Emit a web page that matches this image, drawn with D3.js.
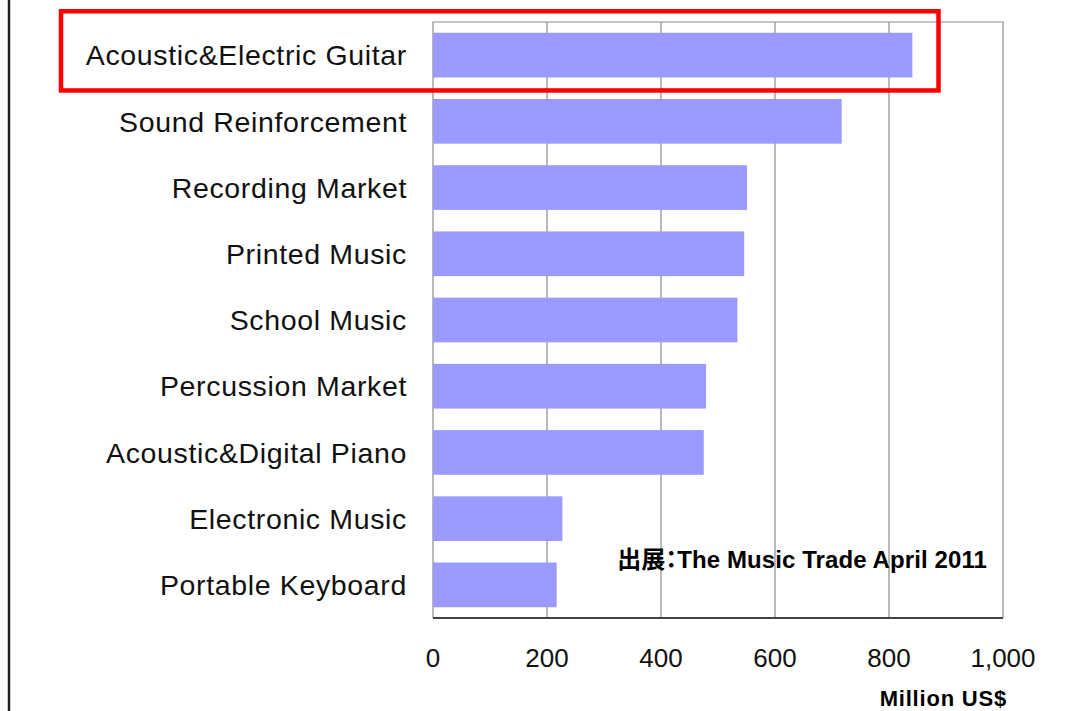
<!DOCTYPE html>
<html>
<head>
<meta charset="utf-8">
<script src="https://cdn.jsdelivr.net/npm/d3@7"></script>
<style>
  html, body { margin: 0; padding: 0; background: #fff; }
  svg { display: block; }
</style>
</head>
<body>
<svg id="chart" width="1091" height="711"></svg>
<script>
// Music products market size by segment (Million US$)
const categories = [
  "Acoustic&Electric Guitar",
  "Sound Reinforcement",
  "Recording Market",
  "Printed Music",
  "School Music",
  "Percussion Market",
  "Acoustic&Digital Piano",
  "Electronic Music",
  "Portable Keyboard"
];
const sales = [841, 717, 551, 546, 534, 479, 475, 227, 217];
const xTicks = [0, 200, 400, 600, 800, 1000];
const highlighted = "Acoustic&Electric Guitar";
const sourcePrefix = "出展：";
const sourceTitle = "The Music Trade April 2011";
const unitText = "Million US$";

const svg = d3.select("#chart");
const W = 1091, H = 711;
const plot = { left: 433, right: 1003, top: 22, bottom: 618 };

const x = d3.scaleLinear().domain([0, 1000]).range([plot.left, plot.right]);
const y = d3.scaleBand().domain(categories).range([plot.top, plot.bottom])
  .paddingInner(0.325).paddingOuter(0.1625);

// frame line on the far left
svg.append("line")
  .attr("x1", 9).attr("x2", 9).attr("y1", 0).attr("y2", H)
  .attr("stroke", "#222").attr("stroke-width", 2.5);

// vertical gridlines
svg.append("g")
  .selectAll("line")
  .data(xTicks.slice(1, -1))
  .join("line")
  .attr("x1", d => x(d)).attr("x2", d => x(d))
  .attr("y1", plot.top).attr("y2", plot.bottom)
  .attr("stroke", "#8c8c8c").attr("stroke-width", 1.2);

// plot border: top, right, left
svg.append("path")
  .attr("d", `M${plot.left},${plot.bottom}V${plot.top}H${plot.right}V${plot.bottom}`)
  .attr("fill", "none").attr("stroke", "#8c8c8c").attr("stroke-width", 1.2);

// bars
svg.append("g")
  .selectAll("rect")
  .data(categories.map((c, i) => ({ c, v: sales[i] })))
  .join("rect")
  .attr("x", x(0))
  .attr("y", d => y(d.c))
  .attr("width", d => x(d.v) - x(0))
  .attr("height", y.bandwidth())
  .attr("fill", "#9b9bff");

// bottom axis line
svg.append("line")
  .attr("x1", plot.left).attr("x2", plot.right)
  .attr("y1", plot.bottom).attr("y2", plot.bottom)
  .attr("stroke", "#444").attr("stroke-width", 2);

// category labels
svg.append("g")
  .selectAll("text")
  .data(categories)
  .join("text")
  .attr("x", plot.left - 26)
  .attr("y", d => y(d) + y.bandwidth() / 2)
  .attr("dy", "0.36em")
  .attr("text-anchor", "end")
  .attr("font-family", "'Liberation Sans', Arial, sans-serif")
  .attr("font-size", 28.5)
  .attr("letter-spacing", 0.65)
  .attr("fill", "#111")
  .text(d => d);

// x tick labels
const fmt = d3.format(",");
svg.append("g")
  .selectAll("text")
  .data(xTicks)
  .join("text")
  .attr("x", d => x(d))
  .attr("y", 667)
  .attr("text-anchor", "middle")
  .attr("font-family", "'Liberation Sans', Arial, sans-serif")
  .attr("font-size", 26)
  .attr("fill", "#111")
  .text(d => fmt(d));

// unit label
svg.append("text")
  .attr("x", 1007).attr("y", 706)
  .attr("text-anchor", "end")
  .attr("font-family", "'Liberation Sans', Arial, sans-serif")
  .attr("font-weight", "bold")
  .attr("font-size", 22)
  .attr("letter-spacing", 0.8)
  .attr("fill", "#000")
  .text(unitText);

// source note: proportional CJK metrics keep the colon tight
const note = svg.append("text")
  .attr("x", 987).attr("y", 568)
  .attr("text-anchor", "end")
  .attr("font-family", "'Liberation Sans', 'Noto Sans CJK JP', sans-serif")
  .attr("font-weight", "bold")
  .attr("font-size", 24)
  .style("font-feature-settings", "'palt' 1")
  .attr("fill", "#000");
note.append("tspan")
  .attr("font-family", "'Noto Sans CJK JP', sans-serif")
  .text(sourcePrefix);
note.append("tspan")
  .attr("letter-spacing", 0.1)
  .text(sourceTitle);

// highlight box around the leading segment
const hy = y(highlighted);
svg.append("rect")
  .attr("x", 61)
  .attr("y", hy - 21.5)
  .attr("width", 877.5)
  .attr("height", y.bandwidth() + 34.5)
  .attr("fill", "none")
  .attr("stroke", "#ff0000")
  .attr("stroke-width", 4.5);
</script>
</body>
</html>
